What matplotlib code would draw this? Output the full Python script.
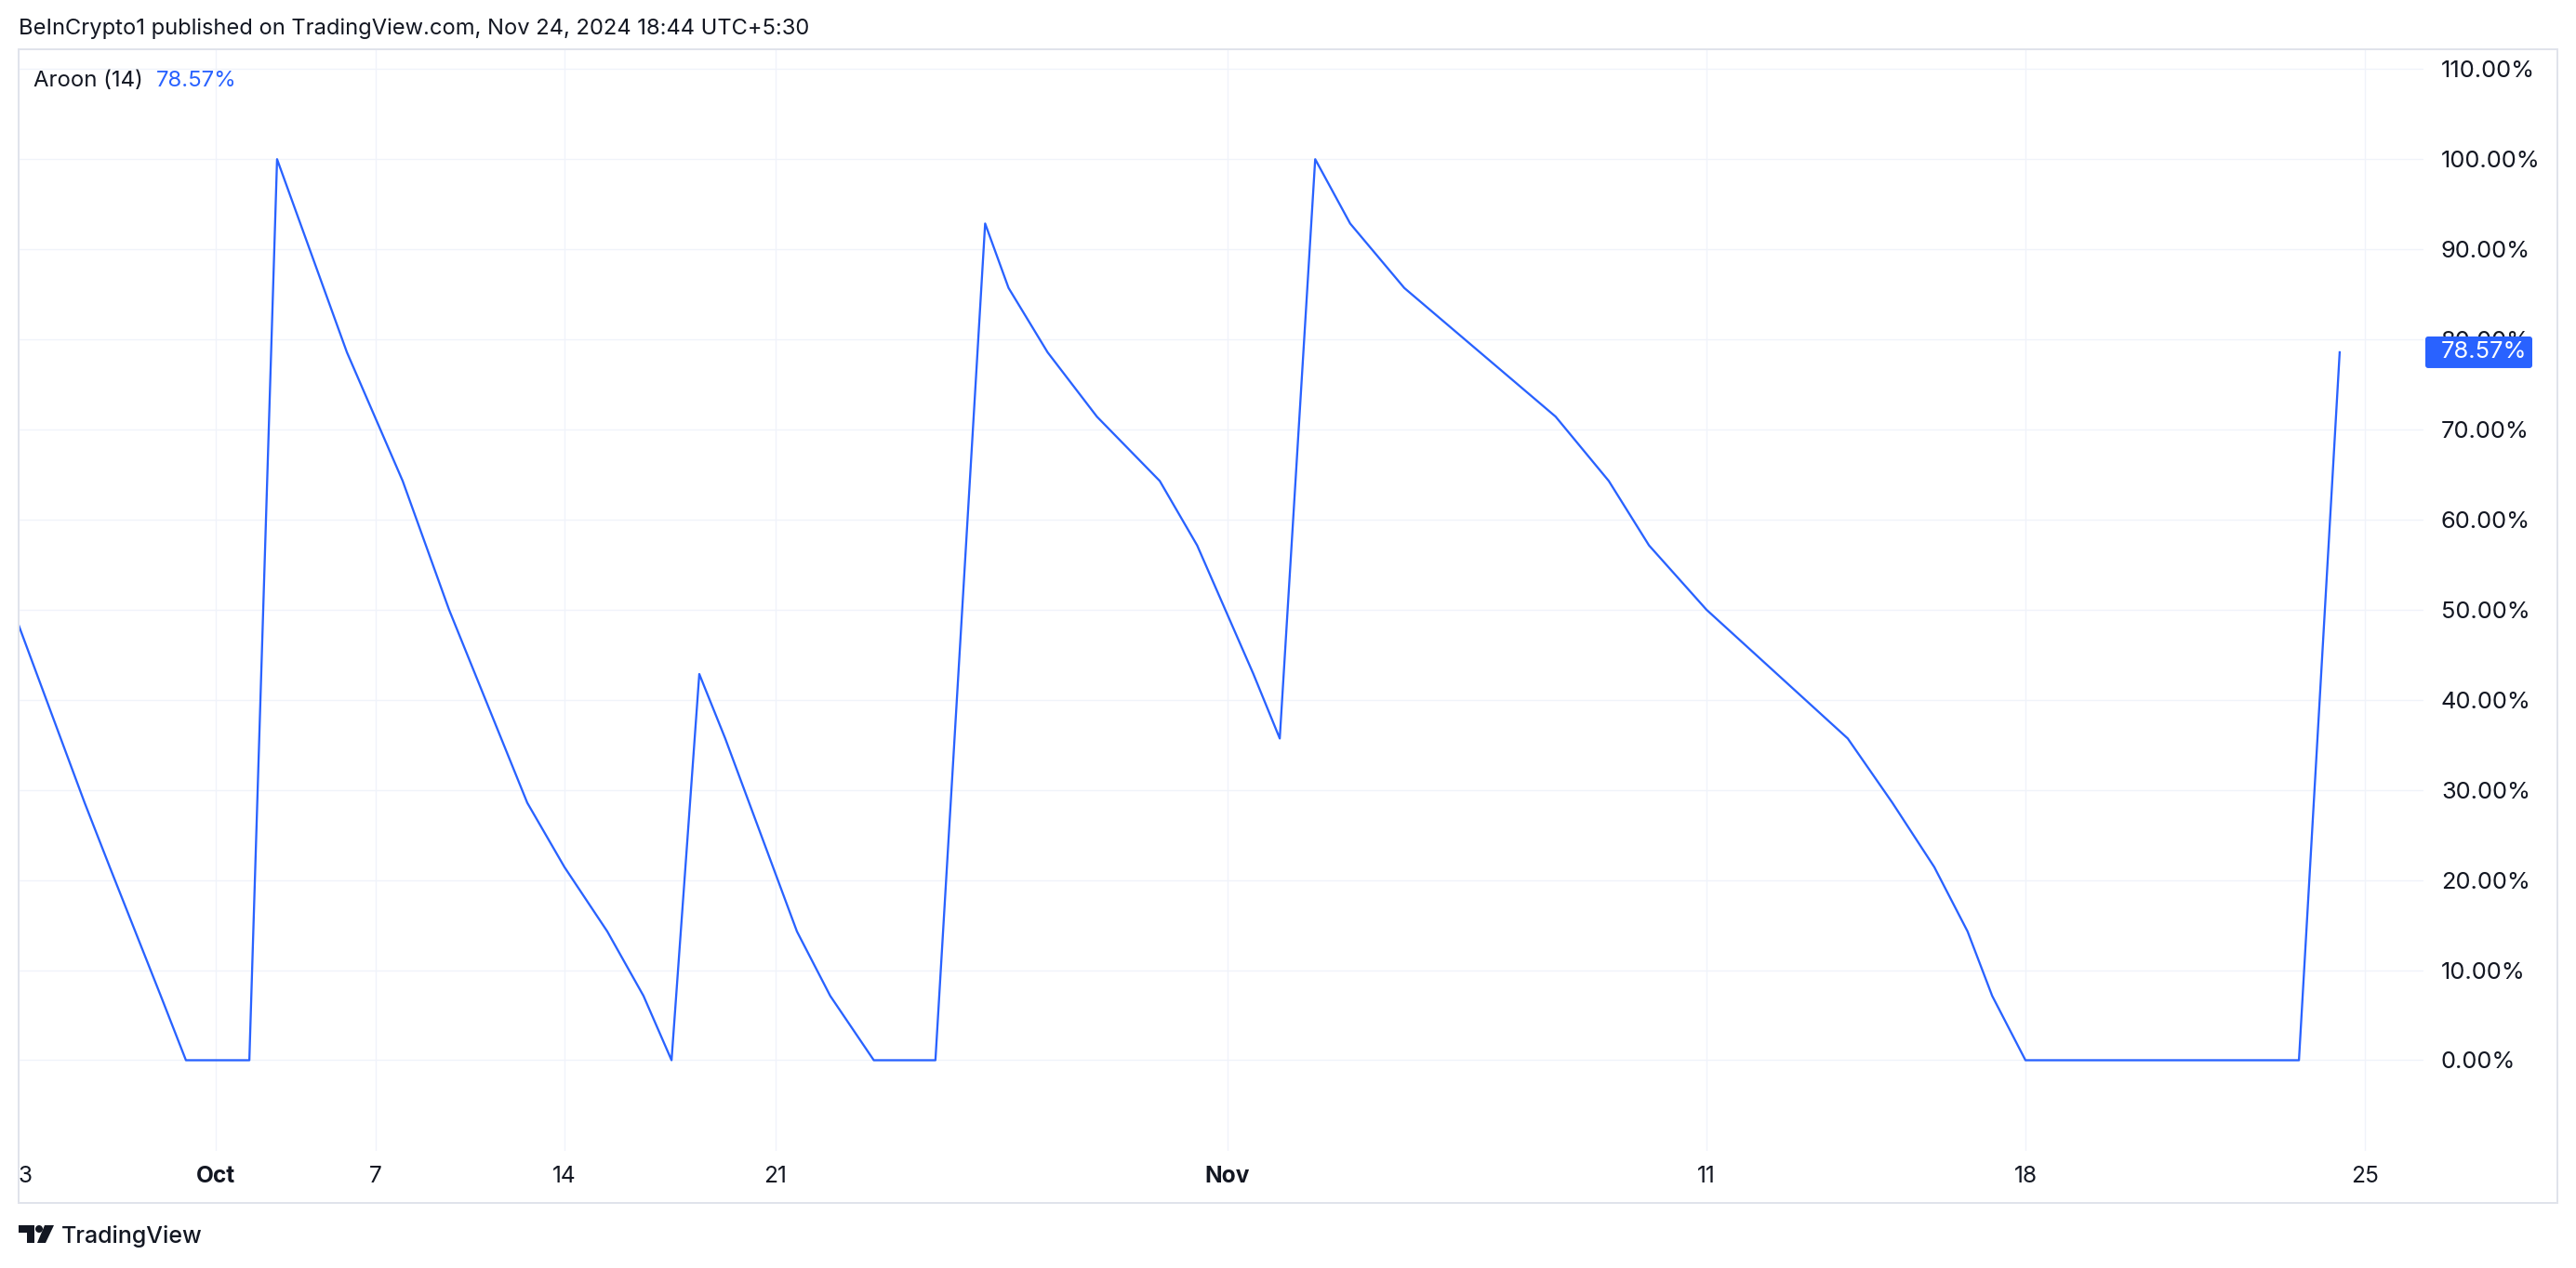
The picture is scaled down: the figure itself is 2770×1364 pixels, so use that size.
import numpy as np
import matplotlib
matplotlib.use('Agg')
import matplotlib.pyplot as plt
from matplotlib.patches import Rectangle, Polygon, Circle, FancyBboxPatch
from matplotlib.transforms import Affine2D
from matplotlib.ticker import FuncFormatter

plt.rcParams['font.family'] = ['Inter', 'DejaVu Sans']

# Aroon Up (14), vertices of the line; days counted from Sep 23
days = [-1.2, 2.68, 3.70, 5.77, 6.79, 9.26, 10.30, 12.92, 15.00, 16.72,
        19.62, 21.00, 22.42, 23.62, 24.55, 25.47, 26.33, 28.52, 29.33, 30.39,
        31.89, 33.10, 33.67, 34.62, 35.82, 37.35, 38.26, 39.54, 40.09, 40.83,
        41.56, 42.69, 45.85, 46.96, 47.80, 49.00, 52.10, 53.08, 54.00, 54.73,
        55.27, 56.00, 61.64, 62.48]
aroon = [57.14, 28.57, 21.43, 7.14, 0, 0, 100, 78.57, 64.29, 50,
         28.57, 21.43, 14.29, 7.14, 0, 42.86, 35.71, 14.29, 7.14, 0,
         0, 92.86, 85.71, 78.57, 71.43, 64.29, 57.14, 42.86, 35.71, 100,
         92.86, 85.71, 71.43, 64.29, 57.14, 50, 35.71, 28.57, 21.43, 14.29,
         7.14, 0, 0, 78.57]

tick_days = [0, 8, 14, 21, 28, 39, 49, 56, 63]
tick_labels = ['23', 'Oct', '7', '14', '21', 'Nov', '11', '18', '25']
# the time scale is not uniform, so each date label gets its own slot
tick_slots = [0, 212, 384, 587, 814, 1300, 1815, 2158, 2523]

W, H = 2770, 1364
DPI = 200
BLUE = '#2962ff'
INK = '#131722'


def pt(px):
    return px * 72 / DPI


fig = plt.figure(figsize=(W / DPI, H / DPI), dpi=DPI)
pix = Affine2D().scale(1 / W, -1 / H).translate(0, 1) + fig.transFigure

ax = fig.add_axes([20 / W, 1 - 1238 / H, (2606 - 20) / W, (1238 - 53) / H])

# piecewise time scale, extended linearly on both sides
s0 = (tick_slots[1] - tick_slots[0]) / (tick_days[1] - tick_days[0])
s1 = (tick_slots[-1] - tick_slots[-2]) / (tick_days[-1] - tick_days[-2])
d_ext = np.r_[tick_days[0] - 50, tick_days, tick_days[-1] + 50]
s_ext = np.r_[tick_slots[0] - 50 * s0, tick_slots, tick_slots[-1] + 50 * s1]


def fwd(d):
    return np.interp(d, d_ext, s_ext)


def inv(s):
    return np.interp(s, s_ext, d_ext)


ax.set_xscale('function', functions=(fwd, inv))
ax.set_xlim(0, float(inv(2586)))
ax.set_ylim(-10.06, 112.2)

ax.plot(days, aroon, color=BLUE, lw=pt(2.3), solid_joinstyle='round')

ax.set_xticks(tick_days, tick_labels)
ax.set_yticks(np.arange(0, 111, 10))
ax.yaxis.tick_right()
ax.yaxis.set_major_formatter(FuncFormatter(lambda v, _: f'{v:.2f}%'))
ax.tick_params(axis='y', length=0, pad=pt(19), labelsize=pt(25.5), labelcolor=INK)
ax.tick_params(axis='x', length=0, pad=pt(16), labelsize=pt(24.5), labelcolor=INK)
ax.grid(True, color='#f0f3fa', lw=pt(1.4))
ax.set_axisbelow(True)
for s in ax.spines.values():
    s.set_visible(False)

clip = Rectangle((20, 1238), 2586, 56, transform=pix)
for lab in ax.get_xticklabels():
    if lab.get_text() in ('Oct', 'Nov'):
        lab.set_fontweight('bold')
    lab.set_clip_path(clip)

# chart frame
fig.patches.append(Rectangle((20, 53), 2730, 1241, transform=pix, fill=False,
                             ec='#e0e3eb', lw=pt(2)))

fig.text(20, 31, 'BeInCrypto1 published on TradingView.com, Nov 24, 2024 18:44 UTC+5:30',
         transform=pix, fontsize=pt(23.7), va='center', color=INK)
fig.text(36, 87, 'Aroon (14)', transform=pix, fontsize=pt(24), va='center', color=INK)
fig.text(168, 87, f'{aroon[-1]:.2f}%', transform=pix, fontsize=pt(24), va='center', color=BLUE)

# last value badge on the price scale
yc = H - ax.transData.transform((1, aroon[-1]))[1]
fig.patches.append(FancyBboxPatch((2608, yc - 17), 115, 34, transform=pix,
                                  boxstyle='round,pad=0,rounding_size=3',
                                  fc=BLUE, ec='none'))
fig.text(2625, yc, f'{aroon[-1]:.2f}%', transform=pix, fontsize=pt(25.5),
         va='center', color='white')

# TradingView logo
fig.patches.append(Polygon([(20, 1318), (37, 1318), (37, 1337), (29, 1337),
                            (29, 1326), (20, 1326)], closed=True, transform=pix,
                           fc=INK, ec='none'))
fig.patches.append(Circle((42, 1322), 4, transform=pix, fc=INK, ec='none'))
fig.patches.append(Polygon([(48, 1318), (58, 1318), (49, 1337), (40, 1337)],
                           closed=True, transform=pix, fc=INK, ec='none'))
fig.text(66, 1330, 'TradingView', transform=pix, fontsize=pt(25), va='center',
         color=INK, fontweight='medium')

fig.savefig('out.png', dpi=DPI, facecolor='white')
